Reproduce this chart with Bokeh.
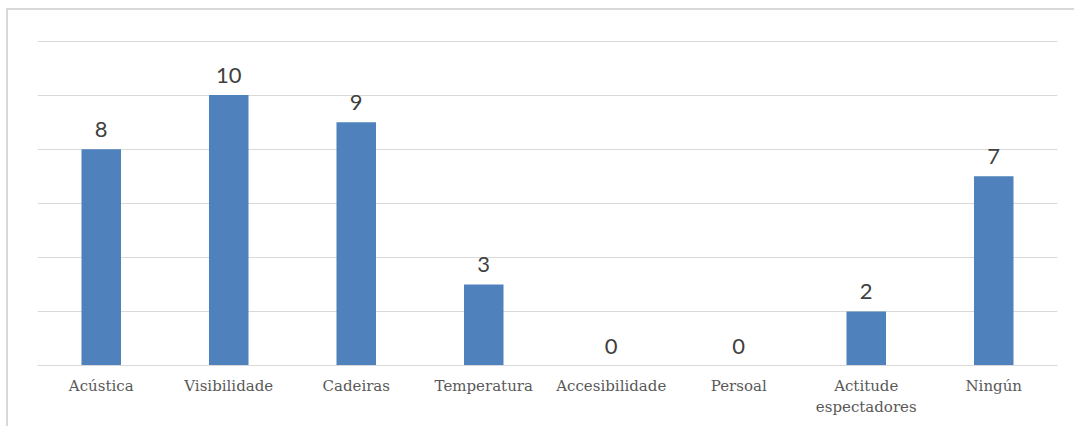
from bokeh.plotting import figure
from bokeh.models import ColumnDataSource, FactorRange, Range1d, FixedTicker, LabelSet
from bokeh.embed import file_html
from bokeh.resources import INLINE
from bokeh.core.properties import value

categories = ["Acústica", "Visibilidade", "Cadeiras", "Temperatura", "Accesibilidade",
              "Persoal", "Actitude\nespectadores", "Ningún"]
counts = [8, 10, 9, 3, 0, 0, 2, 7]
y_ticks = [0, 2, 4, 6, 8, 10, 12]

src = ColumnDataSource(dict(cat=categories, val=counts, lab=[str(v) for v in counts]))

p = figure(x_range=FactorRange(*categories), y_range=Range1d(0, 12.02),
           width=1068, height=418, output_backend="svg", toolbar_location=None,
           min_border_left=29, min_border_right=19, min_border_top=30, min_border_bottom=63)
p.styles = {"border-left": "2px solid #d9d9d9", "border-top": "2px solid #d9d9d9",
            "margin-left": "6px", "margin-top": "8px"}
p.outline_line_color = None
p.background_fill_color = "white"
p.border_fill_color = "white"

p.vbar(x="cat", top="val", width=0.31, source=src, fill_color="#4f81bd", line_color=None)

labels = LabelSet(x="cat", y="val", text="lab", source=src, text_align="center",
                  text_baseline="bottom", y_offset=12, text_font=value("Lato"),
                  text_font_size="22px", text_color="#404040")
p.add_layout(labels)

p.yaxis.visible = False
p.yaxis.ticker = FixedTicker(ticks=y_ticks)
p.ygrid.ticker = FixedTicker(ticks=y_ticks)
p.ygrid.grid_line_color = "#d9d9d9"
p.ygrid.grid_line_width = 1
p.xgrid.grid_line_color = None

p.xaxis.axis_line_color = "#d9d9d9"
p.xaxis.major_tick_line_color = None
p.xaxis.minor_tick_line_color = None
p.xaxis.major_label_text_font = "DejaVu Serif"
p.xaxis.major_label_text_font_size = "15px"
p.xaxis.major_label_text_color = "#595959"
p.xaxis.major_label_standoff = 5

open("out.html", "w").write(file_html(p, INLINE))
